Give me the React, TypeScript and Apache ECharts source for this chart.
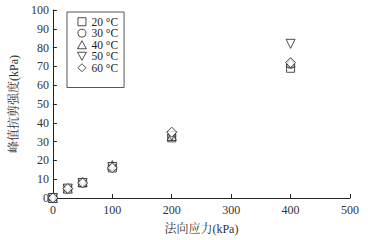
import React, { useEffect, useRef } from "react";
import * as echarts from "echarts";

const normalStress = [0, 25, 50, 100, 200, 400];
const s20 = [0, 5, 8, 16, 32, 69];
const s30 = [0, 5, 8, 16.5, 33, 71];
const s40 = [0, 5, 8.5, 17.5, 33, 72];
const s50 = [0, 5, 8, 16.5, 33, 82];
const s60 = [0, 5, 8, 16, 35, 72];
const seriesNames = ["20 °C", "30 °C", "40 °C", "50 °C", "60 °C"];
const xTicks = [0, 100, 200, 300, 400, 500];
const yTicks = [0, 10, 20, 30, 40, 50, 60, 70, 80, 90, 100];

const downTri = "path://M0,0 L10,0 L5,9 Z";
const upTri = "path://M5,0 L10,9 L0,9 Z";
const square = "path://M0,0 L10,0 L10,10 L0,10 Z";
const diamond = "path://M5,0 L10,5 L5,10 L0,5 Z";
const circle = "path://M10,5 A5,5 0 1,1 0,5 A5,5 0 1,1 10,5 Z";

export default function App() {
  const ref = useRef<HTMLDivElement>(null);
  useEffect(() => {
    if (!ref.current) return;
    const chart = echarts.init(ref.current, undefined, { renderer: "svg" });
    const font = "'Liberation Serif', 'Noto Serif CJK SC', 'Noto Sans CJK SC', serif";
    const all = [s20, s30, s40, s50, s60];
    const syms = [square, circle, upTri, downTri, diamond];
    const sizes = [8, 8, 9, 9, 10];
    chart.setOption({
      animation: false,
      backgroundColor: "#fff",
      textStyle: { fontFamily: font },
      grid: { left: 44, right: 18, top: 10, bottom: 41 },
      legend: {
        orient: "vertical",
        left: 67,
        top: 12,
        padding: [4, 6, 14, 10],
        itemGap: 0,
        itemWidth: 9,
        itemHeight: 8,
        borderColor: "#555",
        borderWidth: 1,
        textStyle: { fontFamily: font, fontSize: 11.5, color: "#222" },
        data: seriesNames.map((n, i) => ({
          name: n,
          icon: syms[i],
          itemStyle: { color: "#fff", borderColor: "#222", borderWidth: 1 },
        })),
      },
      xAxis: {
        type: "value",
        min: 0,
        max: 500,
        interval: 100,
        name: "法向应力(kPa)",
        nameLocation: "middle",
        nameGap: 25,
        nameTextStyle: { fontFamily: font, fontSize: 12, color: "#333" },
        axisLine: { lineStyle: { color: "#222", width: 1 } },
        axisTick: { inside: true, length: 4, lineStyle: { color: "#222" } },
        axisLabel: { fontFamily: font, fontSize: 12, color: "#333", margin: 6 },
        splitLine: { show: false },
      },
      yAxis: {
        type: "value",
        min: 0,
        max: 100,
        interval: 10,
        name: "峰值抗剪强度(kPa)",
        nameLocation: "middle",
        nameGap: 30,
        nameRotate: 90,
        nameTextStyle: { fontFamily: font, fontSize: 12, color: "#333" },
        axisLine: { show: true, lineStyle: { color: "#222", width: 1 } },
        axisTick: { show: true, inside: true, length: 4, lineStyle: { color: "#222" } },
        axisLabel: { fontFamily: font, fontSize: 12, color: "#333", margin: 4 },
        splitLine: { show: false },
      },
      series: seriesNames.map((n, i) => ({
        name: n,
        type: "scatter",
        symbol: syms[i],
        symbolSize: sizes[i],
        itemStyle: { color: "#fff", borderColor: "#222", borderWidth: 1 },
        data: normalStress.map((x, j) => [x, all[i][j]]),
      })),
    });
    return () => chart.dispose();
  }, []);
  return <div ref={ref} style={{ width: 368, height: 240, position: "absolute", left: 0, top: 0 }} />;
}
